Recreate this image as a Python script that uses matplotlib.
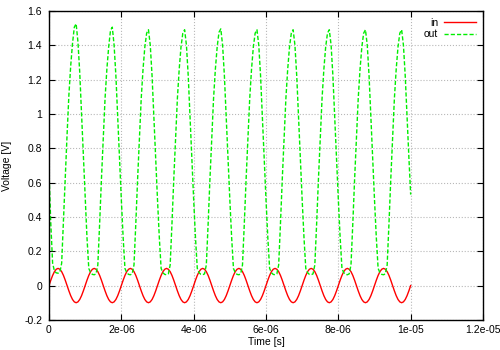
import numpy as np
import matplotlib
matplotlib.use('Agg')
import matplotlib.pyplot as plt

plt.rcParams['font.family'] = ['Liberation Sans', 'DejaVu Sans']
plt.rcParams['font.size'] = 7.5

# sampling grid: 0 .. 10 us, 0.05 us step (201 points)
czas = np.linspace(0.0, 10.0, 201) * 1e-6

# input signal, one row per period
v_in = [0.0,
    0.031, 0.059, 0.081, 0.095, 0.1, 0.095, 0.081, 0.059, 0.031, 0.0,
    -0.031, -0.059, -0.081, -0.095, -0.1, -0.095, -0.081, -0.059, -0.031, 0.0,
    0.031, 0.059, 0.081, 0.095, 0.1, 0.095, 0.081, 0.059, 0.031, 0.0,
    -0.031, -0.059, -0.081, -0.095, -0.1, -0.095, -0.081, -0.059, -0.031, 0.0,
    0.031, 0.059, 0.081, 0.095, 0.1, 0.095, 0.081, 0.059, 0.031, 0.0,
    -0.031, -0.059, -0.081, -0.095, -0.1, -0.095, -0.081, -0.059, -0.031, 0.0,
    0.031, 0.059, 0.081, 0.095, 0.1, 0.095, 0.081, 0.059, 0.031, 0.0,
    -0.031, -0.059, -0.081, -0.095, -0.1, -0.095, -0.081, -0.059, -0.031, 0.0,
    0.031, 0.059, 0.081, 0.095, 0.1, 0.095, 0.081, 0.059, 0.031, 0.0,
    -0.031, -0.059, -0.081, -0.095, -0.1, -0.095, -0.081, -0.059, -0.031, 0.0,
    0.031, 0.059, 0.081, 0.095, 0.1, 0.095, 0.081, 0.059, 0.031, 0.0,
    -0.031, -0.059, -0.081, -0.095, -0.1, -0.095, -0.081, -0.059, -0.031, 0.0,
    0.031, 0.059, 0.081, 0.095, 0.1, 0.095, 0.081, 0.059, 0.031, 0.0,
    -0.031, -0.059, -0.081, -0.095, -0.1, -0.095, -0.081, -0.059, -0.031, 0.0,
    0.031, 0.059, 0.081, 0.095, 0.1, 0.095, 0.081, 0.059, 0.031, 0.0,
    -0.031, -0.059, -0.081, -0.095, -0.1, -0.095, -0.081, -0.059, -0.031, 0.0,
    0.031, 0.059, 0.081, 0.095, 0.1, 0.095, 0.081, 0.059, 0.031, 0.0,
    -0.031, -0.059, -0.081, -0.095, -0.1, -0.095, -0.081, -0.059, -0.031, 0.0,
    0.031, 0.059, 0.081, 0.095, 0.1, 0.095, 0.081, 0.059, 0.031, 0.0,
    -0.031, -0.059, -0.081, -0.095, -0.1, -0.095, -0.081, -0.059, -0.031, 0.0,
]

# output signal, one row per period
v_out = [0.66,
    0.36, 0.13, 0.085, 0.074, 0.072, 0.078, 0.13, 0.38, 0.64, 0.88,
    1.11, 1.28, 1.41, 1.505, 1.525, 1.42, 1.24, 1.00, 0.76, 0.51,
    0.28, 0.10, 0.075, 0.065, 0.063, 0.068, 0.12, 0.36, 0.62, 0.86,
    1.09, 1.26, 1.39, 1.485, 1.505, 1.40, 1.22, 0.98, 0.75, 0.50,
    0.28, 0.10, 0.075, 0.065, 0.063, 0.068, 0.12, 0.36, 0.62, 0.86,
    1.09, 1.26, 1.39, 1.47, 1.49, 1.40, 1.22, 0.98, 0.75, 0.50,
    0.28, 0.10, 0.075, 0.065, 0.063, 0.068, 0.12, 0.36, 0.62, 0.86,
    1.09, 1.26, 1.39, 1.47, 1.49, 1.40, 1.22, 0.98, 0.75, 0.50,
    0.28, 0.10, 0.075, 0.065, 0.063, 0.068, 0.12, 0.36, 0.62, 0.86,
    1.09, 1.26, 1.39, 1.475, 1.495, 1.40, 1.22, 0.98, 0.75, 0.50,
    0.28, 0.10, 0.075, 0.065, 0.063, 0.068, 0.12, 0.36, 0.62, 0.86,
    1.09, 1.26, 1.39, 1.47, 1.49, 1.40, 1.22, 0.98, 0.75, 0.50,
    0.28, 0.10, 0.075, 0.065, 0.063, 0.068, 0.12, 0.36, 0.62, 0.86,
    1.09, 1.26, 1.39, 1.47, 1.49, 1.40, 1.22, 0.98, 0.75, 0.50,
    0.28, 0.10, 0.075, 0.065, 0.063, 0.068, 0.12, 0.36, 0.62, 0.86,
    1.09, 1.26, 1.39, 1.47, 1.49, 1.40, 1.22, 0.98, 0.75, 0.50,
    0.28, 0.10, 0.075, 0.065, 0.063, 0.068, 0.12, 0.36, 0.62, 0.86,
    1.09, 1.26, 1.39, 1.47, 1.49, 1.40, 1.22, 0.98, 0.75, 0.50,
    0.28, 0.10, 0.075, 0.065, 0.063, 0.068, 0.12, 0.36, 0.62, 0.86,
    1.09, 1.26, 1.39, 1.47, 1.49, 1.40, 1.22, 0.98, 0.75, 0.53,
]

x_ticks = [0, 2e-6, 4e-6, 6e-6, 8e-6, 1e-5, 1.2e-5]
x_tick_labels = ['0', '2e-06', '4e-06', '6e-06', '8e-06', '1e-05', '1.2e-05']
y_ticks = [-0.2, 0, 0.2, 0.4, 0.6, 0.8, 1, 1.2, 1.4, 1.6]
y_tick_labels = ['-0.2', '0', '0.2', '0.4', '0.6', '0.8', '1', '1.2', '1.4', '1.6']

fig = plt.figure(figsize=(5, 3.5), dpi=100)
ax = fig.add_axes([0.098, 0.086, 0.868, 0.883])

ax.plot(czas, v_in, color='#ff0000', linewidth=1.0, label='in')
ax.plot(czas, v_out, color='#00ee00', linewidth=1.0, linestyle=(0, (3, 1.5)), label='out')

ax.set_xlim(0, 1.2e-5)
ax.set_ylim(-0.2, 1.6)
ax.set_xticks(x_ticks)
ax.set_xticklabels(x_tick_labels)
ax.set_yticks(y_ticks)
ax.set_yticklabels(y_tick_labels)
ax.tick_params(direction='in', length=4, width=0.8, top=True, right=True)
ax.tick_params(axis='x', pad=4)
ax.tick_params(axis='y', pad=5)
ax.grid(True, color='#b8b8b8', linestyle=':', linewidth=0.8)
for s in ax.spines.values():
    s.set_linewidth(1.0)

ax.set_xlabel('Time [s]', labelpad=1)
ax.set_ylabel('Voltage [V]', labelpad=9)

ax.legend(loc='upper right', frameon=False, markerfirst=False, handlelength=3.0,
          handletextpad=0.6, labelspacing=0.1, borderaxespad=0.3)

fig.savefig('out.png', dpi=100)
